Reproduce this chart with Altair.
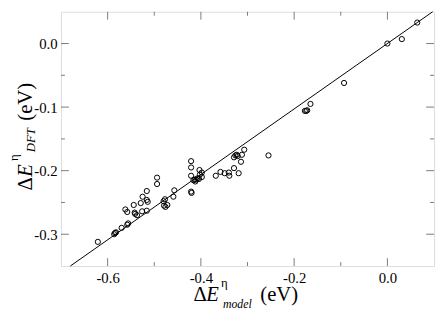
import altair as alt
import pandas as pd

# ---- data ----
model_x = [-0.621, -0.586, -0.584, -0.582, -0.570, -0.558, -0.556, -0.562, -0.558, -0.544,
           -0.542, -0.541, -0.537, -0.526, -0.529, -0.525, -0.516, -0.516, -0.514, -0.516,
           -0.494, -0.494, -0.480, -0.477, -0.479, -0.476, -0.472, -0.459, -0.457,
           -0.421, -0.421, -0.421, -0.416, -0.413, -0.410, -0.407, -0.404, -0.412,
           -0.403, -0.402, -0.398, -0.398, -0.421, -0.420,
           -0.368, -0.358, -0.349, -0.340, -0.339, -0.329, -0.319, -0.326, -0.323, -0.321,
           -0.329, -0.312, -0.307, -0.314, -0.255,
           -0.177, -0.174, -0.172, -0.165, -0.093, 0.000, 0.031, 0.064]
dft_y = [-0.312, -0.300, -0.298, -0.297, -0.290, -0.285, -0.283, -0.261, -0.265, -0.254,
         -0.266, -0.268, -0.270, -0.264, -0.251, -0.241, -0.232, -0.246, -0.249, -0.263,
         -0.211, -0.221, -0.248, -0.245, -0.255, -0.257, -0.254, -0.241, -0.231,
         -0.185, -0.195, -0.208, -0.215, -0.214, -0.214, -0.212, -0.213, -0.217,
         -0.199, -0.206, -0.203, -0.210, -0.233, -0.235,
         -0.208, -0.202, -0.204, -0.203, -0.208, -0.196, -0.204, -0.176, -0.175, -0.177,
         -0.179, -0.175, -0.167, -0.186, -0.176,
         -0.106, -0.106, -0.105, -0.095, -0.062, 0.000, 0.007, 0.033]
fit_x = [-0.68, 0.097]
fit_y = [-0.35, 0.05]

x_domain = [-0.7, 0.1]
y_domain = [-0.35, 0.05]
x_major = [-0.6, -0.4, -0.2, 0.0]
x_minor = [-0.5, -0.3, -0.1]
y_major = [-0.3, -0.2, -0.1, 0.0]
y_minor = [-0.25, -0.15, -0.05]

xt_main = ["\u0394", "E", "(eV)"]
xt_sup = ["\u03b7"]
xt_sub = ["model"]
yt_sub = ["DFT"]

# ---- layout ----
W, H = 380, 259
FONT = "Liberation Serif"
GRAY = "#7a7a7a"
MAJ, MIN = 8, 4

xs = alt.Scale(domain=x_domain, nice=False, zero=False)
ys = alt.Scale(domain=y_domain, nice=False, zero=False)
lab = "(datum.value < -0.00001 ? '-' : '') + format(abs(datum.value), '.1f')"

X_AX = alt.Axis(values=x_major, labelExpr=lab, ticks=False, domain=False, grid=False, title=None,
                labelFont=FONT, labelFontSize=15, labelColor="black", labelPadding=5)
Y_AX = alt.Axis(values=y_major, labelExpr=lab, ticks=False, domain=False, grid=False, title=None,
                labelFont=FONT, labelFontSize=15, labelColor="black", labelPadding=4)

pts = pd.DataFrame({"x": model_x, "y": dft_y})
points = alt.Chart(pts).mark_point(
    shape="circle", filled=False, color="black", size=28, strokeWidth=1, opacity=1
).encode(
    x=alt.X("x:Q", scale=xs, axis=X_AX),
    y=alt.Y("y:Q", scale=ys, axis=Y_AX),
)

fit = alt.Chart(pd.DataFrame({"x": fit_x, "y": fit_y})).mark_line(color="black", strokeWidth=1).encode(
    x=alt.X("x:Q", scale=xs, axis=X_AX), y=alt.Y("y:Q", scale=ys, axis=Y_AX))


def xticks(vals, L):
    d = alt.Chart(pd.DataFrame({"v": vals}))
    b = d.mark_rule(color=GRAY, strokeWidth=1).encode(
        x=alt.X("v:Q", scale=xs, axis=X_AX), y=alt.value(H), y2=alt.value(H - L))
    t = d.mark_rule(color=GRAY, strokeWidth=1).encode(
        x=alt.X("v:Q", scale=xs, axis=X_AX), y=alt.value(0), y2=alt.value(L))
    return [b, t]


def yticks(vals, L):
    d = alt.Chart(pd.DataFrame({"v": vals}))
    l = d.mark_rule(color=GRAY, strokeWidth=1).encode(
        y=alt.Y("v:Q", scale=ys, axis=Y_AX), x=alt.value(0), x2=alt.value(L))
    r = d.mark_rule(color=GRAY, strokeWidth=1).encode(
        y=alt.Y("v:Q", scale=ys, axis=Y_AX), x=alt.value(W), x2=alt.value(W - L))
    return [l, r]


def txt(s, x, y, size, italic=False, angle=None):
    kw = dict(font=FONT, fontSize=size, color="black", align="left", baseline="alphabetic")
    if italic:
        kw["fontStyle"] = "italic"
    if angle is not None:
        kw["angle"] = angle
    return alt.Chart(pd.DataFrame({"t": [s]})).mark_text(**kw).encode(
        text="t:N", x=alt.value(x), y=alt.value(y))


titles = [
    # x title
    txt(xt_main[0], 135, 295, 21),
    txt(xt_main[1], 148, 295, 21, italic=True),
    txt(xt_sup[0], 163, 280, 13),
    txt(xt_sub[0], 165, 302, 12, italic=True),
    txt(xt_main[2], 203, 295, 21),
    # y title, rotated
    txt(xt_main[0], -30, 182, 21, angle=270),
    txt(xt_main[1], -30, 168, 21, italic=True, angle=270),
    txt(xt_sup[0], -44, 152, 13, angle=270),
    txt(yt_sub[0], -27, 143, 13, italic=True, angle=270),
    txt(xt_main[2], -30, 111, 21, angle=270),
]

layers = [fit, points] + xticks(x_major, MAJ) + xticks(x_minor, MIN) + yticks(y_major, MAJ) + yticks(y_minor, MIN) + titles

chart = alt.layer(*layers).properties(
    width=W, height=H,
    padding={"left": 54, "top": 1, "right": 1, "bottom": 43},
    autosize=alt.AutoSizeParams(type="none"),
).configure_view(
    stroke=GRAY, strokeWidth=2
).configure_axis(
    labelFont=FONT, labelFontSize=15, labelColor="black"
).configure(background="white")

chart.save("out.html", embed_options={"renderer": "svg", "actions": False})
